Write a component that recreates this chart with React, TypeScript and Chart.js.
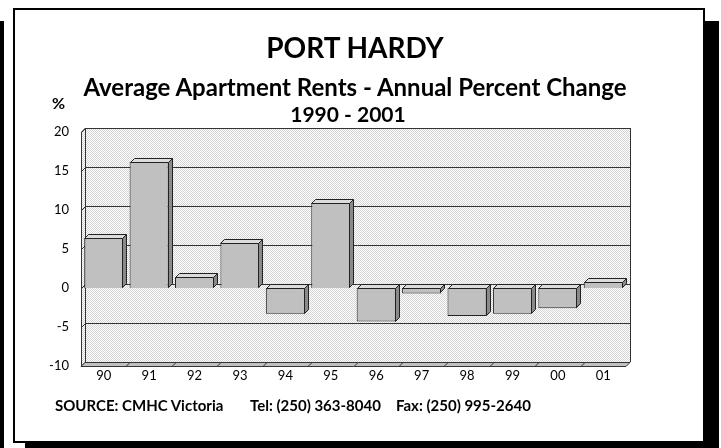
import React, { useEffect, useRef } from 'react';
import { Chart, registerables } from 'chart.js';

Chart.register(...registerables);

const categories = ['90', '91', '92', '93', '94', '95', '96', '97', '98', '99', '00', '01'];
const rentChange = [6.4, 16.2, 1.4, 5.8, -3.3, 10.9, -4.3, -0.7, -3.6, -3.3, -2.6, 0.8];
const yMin = -10;
const yMax = 20;
const yStep = 5;
const titleMain = 'PORT HARDY';
const titleSub = 'Average Apartment Rents - Annual Percent Change';
const titleYears = '1990 - 2001';
const yUnit = '%';
const sourceParts = ['SOURCE: CMHC Victoria', 'Tel: (250) 363-8040', 'Fax: (250) 995-2640'];

const DEPTH = 4;
const FONT = 'Lato, "DejaVu Sans", sans-serif';

function makePattern(ctx: CanvasRenderingContext2D) {
  const c = document.createElement('canvas');
  c.width = 2;
  c.height = 2;
  const p = c.getContext('2d')!;
  p.fillStyle = '#ffffff';
  p.fillRect(0, 0, 2, 2);
  p.fillStyle = '#d4d4d4';
  p.fillRect(0, 0, 1, 1);
  p.fillRect(1, 1, 1, 1);
  return ctx.createPattern(c, 'repeat')!;
}

const depthPlugin = {
  id: 'depth3d',
  beforeDatasetsDraw(chart: any) {
    const { ctx, chartArea: a, scales } = chart;
    const y = scales.y;
    const x = scales.x;
    const d = DEPTH;
    ctx.save();
    const pat = makePattern(ctx);
    ctx.fillStyle = pat;
    ctx.fillRect(a.left + d, a.top - d, a.right - a.left, a.bottom - a.top);
    ctx.strokeStyle = '#333';
    ctx.lineWidth = 1;
    // left wall
    ctx.beginPath();
    ctx.moveTo(a.left + 0.5, a.top);
    ctx.lineTo(a.left + d + 0.5, a.top - d);
    ctx.lineTo(a.left + d + 0.5, a.bottom - d);
    ctx.lineTo(a.left + 0.5, a.bottom);
    ctx.closePath();
    ctx.fill();
    ctx.stroke();
    // grid lines on back wall
    y.ticks.forEach((t: any) => {
      if (t.value === yMin) return;
      const py = Math.round(y.getPixelForValue(t.value)) + 0.5;
      ctx.beginPath();
      ctx.moveTo(a.left + 0.5, py);
      ctx.lineTo(a.left + d + 0.5, py - d);
      ctx.lineTo(a.right + d, py - d);
      ctx.stroke();
    });
    // back wall right edge
    ctx.beginPath();
    ctx.moveTo(Math.round(a.right + d) + 0.5, a.top - d);
    ctx.lineTo(Math.round(a.right + d) + 0.5, a.bottom - d);
    ctx.stroke();
    // floor
    ctx.beginPath();
    ctx.moveTo(a.left, a.bottom + 0.5);
    ctx.lineTo(a.left + d, a.bottom - d + 0.5);
    ctx.lineTo(a.right + d, a.bottom - d + 0.5);
    ctx.lineTo(a.right, a.bottom + 0.5);
    ctx.closePath();
    ctx.fillStyle = '#c0c0c0';
    ctx.fill();
    ctx.stroke();
    // floor category ticks
    for (let i = 1; i < categories.length; i++) {
      const px = Math.round((x.getPixelForTick(i - 1) + x.getPixelForTick(i)) / 2) + 0.5;
      ctx.beginPath();
      ctx.moveTo(px, a.bottom);
      ctx.lineTo(px + d, a.bottom - d);
      ctx.stroke();
    }
    ctx.restore();
  },
  afterDatasetsDraw(chart: any) {
    const { ctx } = chart;
    const d = DEPTH;
    const meta = chart.getDatasetMeta(0);
    ctx.save();
    ctx.strokeStyle = '#222';
    ctx.lineWidth = 1;
    meta.data.forEach((el: any) => {
      const { x, y, base, width } = el.getProps(['x', 'y', 'base', 'width'], true);
      const l = Math.round(x - width / 2) + 0.5;
      const r = Math.round(x + width / 2) - 0.5;
      const top = Math.round(Math.min(y, base)) + 0.5;
      const bot = Math.round(Math.max(y, base)) - 0.5;
      ctx.beginPath();
      ctx.moveTo(l, top);
      ctx.lineTo(l + d, top - d);
      ctx.lineTo(r + d, top - d);
      ctx.lineTo(r, top);
      ctx.closePath();
      ctx.fillStyle = '#dcdcdc';
      ctx.fill();
      ctx.stroke();
      ctx.beginPath();
      ctx.moveTo(r, top);
      ctx.lineTo(r + d, top - d);
      ctx.lineTo(r + d, bot - d);
      ctx.lineTo(r, bot);
      ctx.closePath();
      ctx.fillStyle = '#8a8a8a';
      ctx.fill();
      ctx.stroke();
    });
    ctx.restore();
  },
};

export default function App() {
  const ref = useRef<HTMLCanvasElement>(null);

  useEffect(() => {
    document.body.style.margin = '0';
    const chart = new Chart(ref.current!, {
      type: 'bar',
      data: {
        labels: categories,
        datasets: [
          {
            data: rentChange,
            backgroundColor: '#c0c0c0',
            borderColor: '#222',
            borderWidth: 1,
            categoryPercentage: 0.86,
            barPercentage: 1,
          },
        ],
      },
      options: {
        responsive: false,
        animation: false,
        events: [],
        layout: { padding: { left: 0, top: 132, right: 95, bottom: 52 } },
        plugins: { legend: { display: false }, title: { display: false }, tooltip: { enabled: false } },
        scales: {
          x: {
            grid: { display: false, drawTicks: false },
            border: { display: false },
            ticks: { font: { family: FONT, size: 13 }, color: '#000', padding: 2, maxRotation: 0 },
            afterFit(s: any) {
              s.height = 30;
            },
          },
          y: {
            min: yMin,
            max: yMax,
            grid: { display: false, drawTicks: false },
            border: { display: false },
            ticks: { stepSize: yStep, font: { family: FONT, size: 13 }, color: '#000', padding: 12 },
            afterFit(s: any) {
              s.width = 81;
            },
          },
        },
      },
      plugins: [depthPlugin],
    });
    return () => chart.destroy();
  }, []);

  const textBase: React.CSSProperties = {
    position: 'absolute',
    fontFamily: FONT,
    fontWeight: 700,
    color: '#000',
    whiteSpace: 'nowrap',
    textAlign: 'center',
  };

  return (
    <div style={{ position: 'fixed', left: 0, top: 0, width: 721, height: 448, background: '#fff', overflow: 'hidden' }}>
      <div style={{ position: 'absolute', left: 0, top: 21, width: 4, height: 427, background: '#000' }} />
      <div style={{ position: 'absolute', left: 25, top: 21, width: 694, height: 427, background: '#000' }} />
      <div
        style={{
          position: 'absolute',
          left: 13,
          top: 8,
          width: 692,
          height: 435,
          border: '2px solid #000',
          background: '#fff',
          boxSizing: 'border-box',
        }}
      />
      <canvas ref={ref} width={721} height={448} style={{ position: 'absolute', left: 0, top: 0, width: 721, height: 448 }} />
      <div style={{ ...textBase, left: 0, width: 710, top: 32, fontSize: 28, lineHeight: '30px' }}>{titleMain}</div>
      <div style={{ ...textBase, left: 0, width: 710, top: 74, fontSize: 24, lineHeight: '26px' }}>{titleSub}</div>
      <div style={{ ...textBase, left: 0, width: 696, top: 102, fontSize: 21, lineHeight: '24px' }}>{titleYears}</div>
      <div style={{ ...textBase, left: 52, top: 94, fontSize: 16, lineHeight: '18px' }}>{yUnit}</div>
      <div style={{ ...textBase, left: 55, top: 397, fontSize: 15, lineHeight: '16px', textAlign: 'left' }}>
        {sourceParts[0]}
      </div>
      <div style={{ ...textBase, left: 250, top: 397, fontSize: 15, lineHeight: '16px', textAlign: 'left' }}>
        {sourceParts[1]}
      </div>
      <div style={{ ...textBase, left: 396, top: 397, fontSize: 15, lineHeight: '16px', textAlign: 'left' }}>
        {sourceParts[2]}
      </div>
    </div>
  );
}
